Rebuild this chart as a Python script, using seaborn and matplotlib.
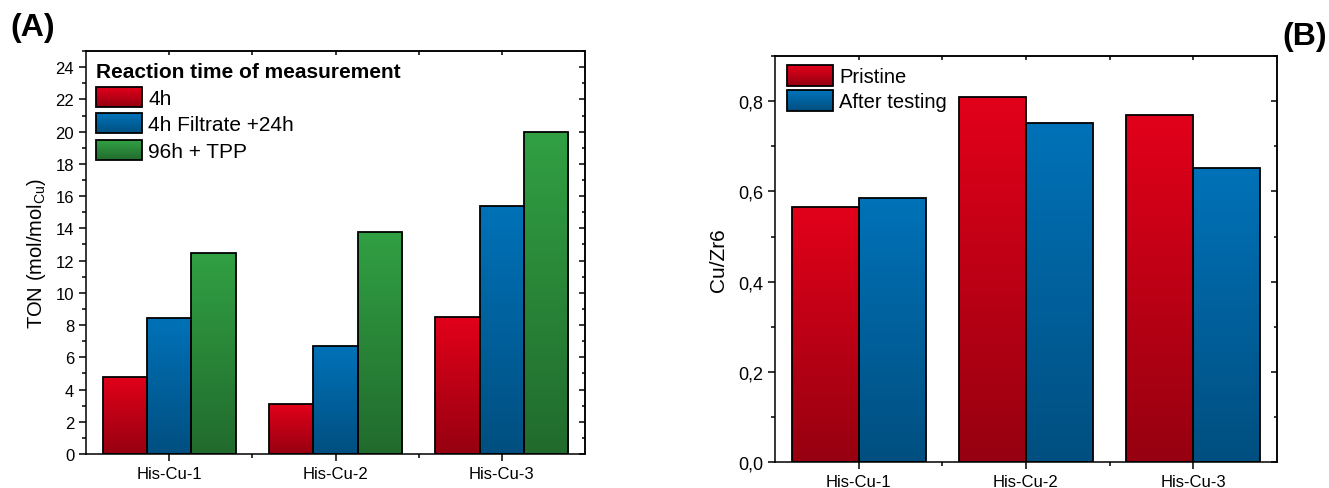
import numpy as np
import pandas as pd
import matplotlib
matplotlib.use("Agg")
import matplotlib.pyplot as plt
import seaborn as sns
from matplotlib.colors import LinearSegmentedColormap
from matplotlib.patches import Rectangle
from matplotlib.legend_handler import HandlerBase
from matplotlib.ticker import MultipleLocator, FuncFormatter

# ---- data ----
samples = ["His-Cu-1", "His-Cu-2", "His-Cu-3"]

conditions_a = ["4h", "4h Filtrate +24h", "96h + TPP"]
ton_4h = [4.8, 3.1, 8.5]
ton_filtrate = [8.45, 6.7, 15.4]
ton_tpp = [12.5, 13.8, 20.0]

conditions_b = ["Pristine", "After testing"]
cuzr_pristine = [0.565, 0.809, 0.770]
cuzr_after = [0.585, 0.751, 0.652]

# gradient colours (top, bottom)
RED = ("#E2001A", "#960010")
BLUE = ("#0072B8", "#004F80")
GREEN = ("#31A043", "#216B2D")

sns.set_style("ticks")
plt.rcParams["font.family"] = ["Liberation Sans", "DejaVu Sans"]
plt.rcParams["mathtext.default"] = "regular"
plt.rcParams["axes.linewidth"] = 1.1
for k in ["text.color", "axes.labelcolor", "xtick.color", "ytick.color", "axes.edgecolor"]:
    plt.rcParams[k] = "black"

df_a = pd.DataFrame({
    "sample": samples * 3,
    "condition": [c for c in conditions_a for _ in samples],
    "TON": ton_4h + ton_filtrate + ton_tpp,
})
df_b = pd.DataFrame({
    "sample": samples * 2,
    "condition": [c for c in conditions_b for _ in samples],
    "ratio": cuzr_pristine + cuzr_after,
})


def gradient_bars(ax, container, top, bottom):
    cmap = LinearSegmentedColormap.from_list("g", [bottom, top])
    grad = np.linspace(0, 1, 256).reshape(-1, 1)
    for bar in container.patches:
        x, y = bar.get_x(), bar.get_y()
        w, h = bar.get_width(), bar.get_height()
        im = ax.imshow(grad, extent=[x, x + w, y, y + h], origin="lower",
                       aspect="auto", cmap=cmap, zorder=bar.get_zorder() - 0.01,
                       interpolation="bilinear")
        im.set_clip_path(bar)
        bar.set_facecolor("none")


class GradientHandler(HandlerBase):
    def __init__(self, top, bottom, n=30):
        super().__init__()
        self.cmap = LinearSegmentedColormap.from_list("h", [bottom, top])
        self.n = n

    def create_artists(self, legend, orig_handle, xdescent, ydescent,
                       width, height, fontsize, trans):
        arts = []
        step = height / self.n
        for i in range(self.n):
            arts.append(Rectangle((-xdescent, -ydescent + i * step), width, step * 1.05,
                                  facecolor=self.cmap(i / (self.n - 1)),
                                  edgecolor="none", transform=trans))
        arts.append(Rectangle((-xdescent, -ydescent), width, height,
                              facecolor="none", edgecolor="black", lw=1.3,
                              transform=trans))
        return arts


def mirror_ticks(ax, ymajor, yminor):
    top = ax.secondary_xaxis("top")
    top.set_xticks([0, 1, 2])
    top.set_xticklabels([])
    top.set_xticks([0.5, 1.5], minor=True)
    top.tick_params(which="both", direction="in", length=3, width=1.1)
    right = ax.secondary_yaxis("right")
    right.yaxis.set_major_locator(MultipleLocator(ymajor))
    right.yaxis.set_minor_locator(MultipleLocator(yminor))
    right.set_yticklabels([])
    right.tick_params(which="major", direction="in", length=4, width=1.1)
    right.tick_params(which="minor", direction="in", length=2.5, width=1.1)


def style_axis(ax):
    ax.set_xlabel("")
    ax.set_xlim(-0.5, 2.5)
    ax.set_xticks([0.5, 1.5], minor=True)
    ax.tick_params(which="major", direction="out", length=5, width=1.1, labelsize=12)
    ax.tick_params(which="minor", direction="out", length=3, width=1.1)
    for s in ax.spines.values():
        s.set_visible(True)
        s.set_linewidth(1.1)


fig = plt.figure(figsize=(13.29, 4.89), dpi=100)

# ---- panel A ----
ax1 = fig.add_axes([0.0647, 0.0695, 0.3755, 0.824])
sns.barplot(data=df_a, x="sample", y="TON", hue="condition", hue_order=conditions_a,
            palette=[RED[0], BLUE[0], GREEN[0]], edgecolor="black", linewidth=1.3,
            saturation=1, legend=False, ax=ax1)
for cont, col in zip(ax1.containers, [RED, BLUE, GREEN]):
    gradient_bars(ax1, cont, *col)
style_axis(ax1)
ax1.set_ylim(0, 25)
ax1.yaxis.set_major_locator(MultipleLocator(2))
ax1.yaxis.set_minor_locator(MultipleLocator(1))
ax1.set_ylabel("TON (mol/mol$_{Cu}$)", fontsize=14.5, labelpad=5)
mirror_ticks(ax1, 2, 1)

handles_a = [Rectangle((0, 0), 1, 1) for _ in conditions_a]
hmap_a = {h: GradientHandler(*c) for h, c in zip(handles_a, [RED, BLUE, GREEN])}
leg = ax1.legend(handles_a, conditions_a, handler_map=hmap_a, loc="upper left",
                 bbox_to_anchor=(0.02, 0.973), frameon=False, fontsize=15,
                 title="Reaction time of measurement",
                 title_fontproperties={"weight": "bold", "size": 15},
                 alignment="left", borderpad=0, borderaxespad=0,
                 handlelength=2.2, handleheight=1.1, labelspacing=0.27,
                 handletextpad=0.3)

# ---- panel B ----
ax2 = fig.add_axes([0.5831, 0.0532, 0.3777, 0.830])
sns.barplot(data=df_b, x="sample", y="ratio", hue="condition", hue_order=conditions_b,
            palette=[RED[0], BLUE[0]], edgecolor="black", linewidth=1.3,
            saturation=1, legend=False, ax=ax2)
for cont, col in zip(ax2.containers, [RED, BLUE]):
    gradient_bars(ax2, cont, *col)
style_axis(ax2)
ax2.tick_params(axis="y", which="major", labelsize=13)
ax2.set_ylim(0, 0.9)
ax2.yaxis.set_major_locator(MultipleLocator(0.2))
ax2.yaxis.set_minor_locator(MultipleLocator(0.1))
ax2.yaxis.set_major_formatter(FuncFormatter(lambda v, p: f"{v:.1f}".replace(".", ",")))
ax2.set_ylabel("Cu/Zr6", fontsize=15, labelpad=7)
mirror_ticks(ax2, 0.2, 0.1)

handles_b = [Rectangle((0, 0), 1, 1) for _ in conditions_b]
hmap_b = {h: GradientHandler(*c) for h, c in zip(handles_b, [RED, BLUE])}
ax2.legend(handles_b, conditions_b, handler_map=hmap_b, loc="upper left",
           bbox_to_anchor=(0.024, 0.978), frameon=False, fontsize=14.5,
           borderpad=0, borderaxespad=0, handlelength=2.3, handleheight=1.2,
           labelspacing=0.2, handletextpad=0.3)

fig.text(0.0075, 0.943, "(A)", fontsize=23, fontweight="bold", ha="left", va="center")
fig.text(0.9646, 0.924, "(B)", fontsize=23, fontweight="bold", ha="left", va="center")

fig.savefig("out.png", dpi=100)
